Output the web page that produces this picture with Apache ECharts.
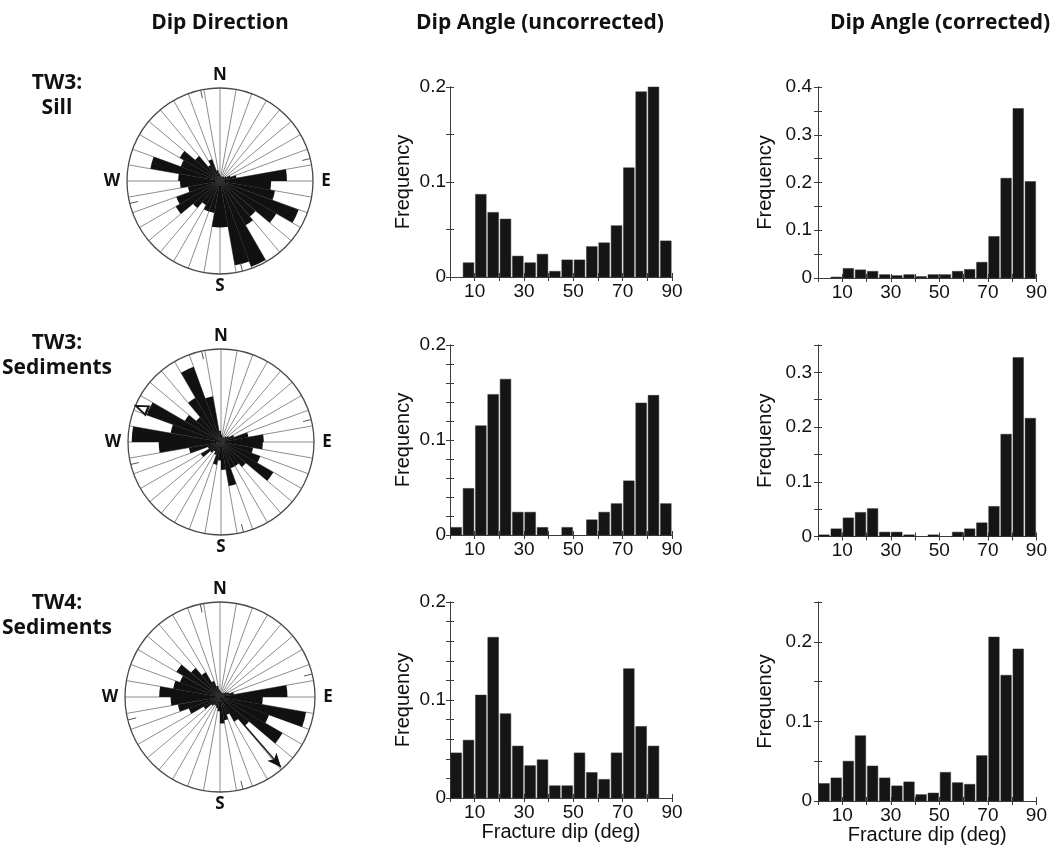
<!DOCTYPE html>
<html>
<head>
<meta charset="utf-8">
<title>Fracture orientations</title>
<script src="https://cdn.jsdelivr.net/npm/echarts@6/dist/echarts.min.js"></script>
<style>
  html, body { margin: 0; padding: 0; background: #ffffff; }
  #chart { width: 1050px; height: 848px; }
</style>
</head>
<body>
<div id="chart"></div>
<script>
// ---------------------------------------------------------------------------
// Dip direction: 10-degree sectors clockwise from north, relative frequency
// (1 = outer circle of the rose).
const DIR_BINS = ['0','10','20','30','40','50','60','70','80','90','100','110',
  '120','130','140','150','160','170','180','190','200','210','220','230',
  '240','250','260','270','280','290','300','310','320','330','340','350'];

const ROSE_TW3_SILL = [0.06, 0.05, 0.05, 0.06, 0.06, 0.08, 0.12, 0.18, 0.72, 0.55, 0.60, 0.90,
  0.70, 0.50, 0.55, 0.98, 0.92, 0.50, 0.50, 0.35, 0.35, 0.30, 0.38, 0.55,
  0.50, 0.35, 0.43, 0.45, 0.76, 0.45, 0.50, 0.35, 0.20, 0.25, 0.12, 0.08];

const ROSE_TW3_SED = [0.08, 0.06, 0.06, 0.06, 0.08, 0.10, 0.15, 0.30, 0.46, 0.45, 0.35, 0.45,
  0.65, 0.35, 0.30, 0.30, 0.48, 0.30, 0.20, 0.25, 0.15, 0.12, 0.15, 0.25,
  0.15, 0.35, 0.67, 0.96, 0.55, 0.85, 0.45, 0.35, 0.55, 0.86, 0.50, 0.12];

const ROSE_TW4_SED = [0.06, 0.05, 0.05, 0.05, 0.06, 0.08, 0.10, 0.15, 0.71, 0.45, 0.92, 0.55,
  0.76, 0.40, 0.30, 0.20, 0.25, 0.28, 0.15, 0.12, 0.10, 0.10, 0.12, 0.20,
  0.35, 0.45, 0.52, 0.64, 0.50, 0.45, 0.53, 0.40, 0.30, 0.18, 0.12, 0.08];

// Mean dip direction arrows: [length, azimuth]
const MEAN_TW3_SED = [0.93, 293];
const MEAN_TW4_SED = [0.98, 139];

// Short reference marks on the rim of every rose (azimuths)
const RIM_MARK_AZIMUTHS = [348, 76, 166, 256];

// ---------------------------------------------------------------------------
// Dip angle histograms: 5-degree bins from 0 to 90 degrees.
const DIP_BIN_EDGES = [0, 5, 10, 15, 20, 25, 30, 35, 40, 45, 50, 55, 60, 65, 70, 75, 80, 85, 90];
const DIP_TICK_LABELS = [10, 30, 50, 70, 90];

const UNC_TW3_SILL = [0, 0.015, 0.087, 0.068, 0.061, 0.022, 0.015, 0.024, 0.006,
  0.018, 0.018, 0.032, 0.036, 0.054, 0.115, 0.195, 0.200, 0.038];
const UNC_TW3_SED = [0.008, 0.049, 0.115, 0.148, 0.164, 0.024, 0.024, 0.008, 0,
  0.008, 0, 0.016, 0.024, 0.033, 0.057, 0.139, 0.147, 0.033];
const UNC_TW4_SED = [0.046, 0.059, 0.105, 0.164, 0.086, 0.053, 0.033, 0.039, 0.0125,
  0.0125, 0.046, 0.026, 0.019, 0.046, 0.132, 0.073, 0.053, 0];

const COR_TW3_SILL = [0, 0.002, 0.020, 0.017, 0.014, 0.007, 0.005, 0.007, 0.003,
  0.007, 0.007, 0.014, 0.018, 0.033, 0.087, 0.209, 0.355, 0.202];
const COR_TW3_SED = [0.003, 0.014, 0.034, 0.044, 0.051, 0.008, 0.008, 0.003, 0,
  0.003, 0, 0.008, 0.014, 0.025, 0.055, 0.187, 0.327, 0.216];
const COR_TW4_SED = [0.022, 0.029, 0.050, 0.082, 0.044, 0.029, 0.019, 0.024, 0.008,
  0.010, 0.036, 0.023, 0.021, 0.057, 0.206, 0.158, 0.191, 0];

const ROW_NAMES = [['TW3:', 'Sill'], ['TW3:', 'Sediments'], ['TW4:', 'Sediments']];
const COLUMN_TITLES = ['Dip Direction', 'Dip Angle (uncorrected)', 'Dip Angle (corrected)'];
const COMPASS = ['N', 'E', 'S', 'W'];

// ---------------------------------------------------------------------------
const FONT_AXIS = '"Liberation Sans", Arial, Helvetica, sans-serif';
const FONT_HEAD = '"Open Sans", "Noto Sans", sans-serif';
const INK = '#111111';
const FRAME = '#3c3c3c';

const chart = echarts.init(document.getElementById('chart'));

// Rose layout (one per row)
const roses = [
  { data: ROSE_TW3_SILL, cx: 220, cy: 181, r: 93, mean: null, openHead: false },
  { data: ROSE_TW3_SED,  cx: 221, cy: 442, r: 93, mean: MEAN_TW3_SED, openHead: true },
  { data: ROSE_TW4_SED,  cx: 220, cy: 697, r: 95, mean: MEAN_TW4_SED, openHead: false }
];

// Histogram layout: [column][row]
const hists = [
  { col: 0, row: 0, values: UNC_TW3_SILL, max: 0.2,  step: 0.05 },
  { col: 0, row: 1, values: UNC_TW3_SED,  max: 0.2,  step: 0.02 },
  { col: 0, row: 2, values: UNC_TW4_SED,  max: 0.2,  step: 0.02 },
  { col: 1, row: 0, values: COR_TW3_SILL, max: 0.4,  step: 0.05 },
  { col: 1, row: 1, values: COR_TW3_SED,  max: 0.35, step: 0.05 },
  { col: 1, row: 2, values: COR_TW4_SED,  max: 0.25, step: 0.05 }
];
const GRID_LEFT = [450, 818];
const GRID_WIDTH = [222, 221];
const GRID_TOP = [87, 345, 602];
const GRID_HEIGHT = [[190, 190, 196], [191, 191.5, 199]];
const LABEL_MARGIN = [4, 6];
const NAME_GAP = [37, 43];

const polar = [], angleAxis = [], radiusAxis = [], series = [];

roses.forEach((rose, i) => {
  polar.push({ center: [rose.cx, rose.cy], radius: rose.r });
  angleAxis.push({
    polarIndex: i, type: 'category', data: DIR_BINS, startAngle: 90, clockwise: true,
    boundaryGap: true,
    axisLine: { show: true, lineStyle: { color: '#4a4a4a', width: 1.3 } },
    axisTick: { show: false, interval: 0 },
    axisLabel: { show: false, interval: 0 },
    splitLine: { show: true, interval: 0, lineStyle: { color: '#808080', width: 0.9 } }
  });
  radiusAxis.push({
    polarIndex: i, type: 'value', min: 0, max: 1,
    axisLine: { show: false }, axisTick: { show: false },
    axisLabel: { show: false }, splitLine: { show: false }
  });
  series.push({
    type: 'bar', coordinateSystem: 'polar', polarIndex: i,
    data: rose.data, barWidth: '100%', barCategoryGap: '0%', barGap: '0%',
    itemStyle: { color: INK }, silent: true
  });
});

// Overlay polar systems with a continuous angle scale for arrows and rim marks
roses.forEach((rose, i) => {
  const p = roses.length + i;
  polar.push({ center: [rose.cx, rose.cy], radius: rose.r });
  angleAxis.push({
    polarIndex: p, type: 'value', min: 0, max: 360, startAngle: 90, clockwise: true,
    axisLine: { show: false }, axisTick: { show: false },
    axisLabel: { show: false }, splitLine: { show: false }
  });
  radiusAxis.push({
    polarIndex: p, type: 'value', min: 0, max: 1,
    axisLine: { show: false }, axisTick: { show: false },
    axisLabel: { show: false }, splitLine: { show: false }
  });
  RIM_MARK_AZIMUTHS.forEach(az => {
    series.push({
      type: 'line', coordinateSystem: 'polar', polarIndex: p, silent: true,
      data: [[0.91, az], [1, az]], symbol: 'none',
      lineStyle: { color: '#555', width: 1 }
    });
  });
  if (rose.mean) {
    const [len, az] = rose.mean;
    const head = rose.openHead
      ? { value: [len, az], symbol: 'triangle', symbolSize: [9, 12], symbolRotate: -az,
          itemStyle: { color: '#ffffff', borderColor: INK, borderWidth: 2 } }
      : { value: [len, az], symbol: 'arrow', symbolSize: [9, 14], symbolRotate: -az,
          itemStyle: { color: INK } };
    series.push({
      type: 'line', coordinateSystem: 'polar', polarIndex: p, silent: true, z: 5,
      data: [{ value: [0, az], symbol: 'none' }, head],
      showSymbol: true, showAllSymbol: true,
      lineStyle: { color: INK, width: 1.2 }
    });
  }
});

// Histograms
const grid = [], xAxis = [], yAxis = [];

function tenthsLabel(v) {
  const t = Math.round(v * 10);
  if (Math.abs(v * 10 - t) > 1e-6) return '';
  return t === 0 ? '0' : (t / 10).toString();
}

function renderHistBar(params, api) {
  const lo = api.value(0), hi = api.value(1), f = api.value(2);
  if (!(f > 0)) return { type: 'group', children: [] };
  const a = api.coord([lo, 0]);
  const b = api.coord([hi, f]);
  const gap = 1.6;
  return {
    type: 'rect',
    shape: { x: a[0] + gap / 2, y: b[1], width: b[0] - a[0] - gap, height: a[1] - b[1] },
    style: { fill: '#151515', stroke: '#333', lineWidth: 0.5 }
  };
}

hists.forEach((h, k) => {
  const bottomRow = h.row === 2;
  grid.push({
    left: GRID_LEFT[h.col], width: GRID_WIDTH[h.col],
    top: GRID_TOP[h.row], height: GRID_HEIGHT[h.col][h.row]
  });
  const axisLine = { show: true, lineStyle: { color: FRAME, width: 1 } };
  const tick = { show: true, inside: true, length: 4, lineStyle: { color: FRAME, width: 1 } };
  xAxis.push({
    gridIndex: k, type: 'value', min: 0, max: 90, interval: 10, position: 'bottom',
    axisLine, axisTick: tick, splitLine: { show: false },
    axisLabel: {
      color: INK, fontFamily: FONT_AXIS, fontSize: 19, margin: 5,
      formatter: v => (DIP_TICK_LABELS.indexOf(Math.round(v)) >= 0 ? String(Math.round(v)) : '')
    },
    name: bottomRow ? 'Fracture dip (deg)' : '',
    nameLocation: 'middle', nameGap: 24,
    nameTextStyle: { color: INK, fontFamily: FONT_AXIS, fontSize: 20 }
  });
  xAxis.push({
    gridIndex: k, type: 'value', min: 0, max: 90, interval: 10, position: 'top',
    axisLine, axisTick: tick, axisLabel: { show: false }, splitLine: { show: false }
  });
  yAxis.push({
    gridIndex: k, type: 'value', min: 0, max: h.max, interval: h.step, position: 'left',
    axisLine, axisTick: tick, splitLine: { show: false },
    axisLabel: {
      color: INK, fontFamily: FONT_AXIS, fontSize: 19, margin: LABEL_MARGIN[h.col],
      showMaxLabel: true, formatter: tenthsLabel
    },
    name: 'Frequency', nameLocation: 'middle', nameGap: NAME_GAP[h.col],
    nameTextStyle: { color: INK, fontFamily: FONT_AXIS, fontSize: 20 }
  });
  yAxis.push({
    gridIndex: k, type: 'value', min: 0, max: h.max, interval: h.step, position: 'right',
    axisLine, axisTick: tick, axisLabel: { show: false }, splitLine: { show: false }
  });
  series.push({
    type: 'custom', xAxisIndex: 2 * k, yAxisIndex: 2 * k, silent: true,
    renderItem: renderHistBar,
    encode: { x: [0, 1], y: 2 },
    data: h.values.map((f, i) => [DIP_BIN_EDGES[i], DIP_BIN_EDGES[i + 1], f])
  });
});

// Headings, row names and compass letters
const graphic = [];
const TITLE_X = [220, 540, 940];
COLUMN_TITLES.forEach((t, i) => {
  graphic.push({
    type: 'text', x: TITLE_X[i], y: 23,
    style: { text: t, font: 'bold 21px ' + FONT_HEAD, fill: INK,
      textAlign: 'center', textVerticalAlign: 'middle' }
  });
});
const ROW_Y = [83, 343, 603];
ROW_NAMES.forEach((lines, i) => {
  lines.forEach((t, j) => {
    graphic.push({
      type: 'text', x: 57, y: ROW_Y[i] + j * 25,
      style: { text: t, font: 'bold 21px ' + FONT_HEAD, fill: INK,
        textAlign: 'center', textVerticalAlign: 'middle' }
    });
  });
});
roses.forEach(rose => {
  const pos = [
    [rose.cx, rose.cy - rose.r - 13],
    [rose.cx + rose.r + 13, rose.cy],
    [rose.cx, rose.cy + rose.r + 12],
    [rose.cx - rose.r - 15, rose.cy]
  ];
  COMPASS.forEach((c, i) => {
    graphic.push({
      type: 'text', x: pos[i][0], y: pos[i][1],
      style: { text: c, font: 'bold 17px ' + FONT_HEAD, fill: INK,
        textAlign: 'center', textVerticalAlign: 'middle' }
    });
  });
});

chart.setOption({
  backgroundColor: '#ffffff',
  animation: false,
  polar, angleAxis, radiusAxis,
  grid, xAxis, yAxis,
  graphic,
  series
});
</script>
</body>
</html>
